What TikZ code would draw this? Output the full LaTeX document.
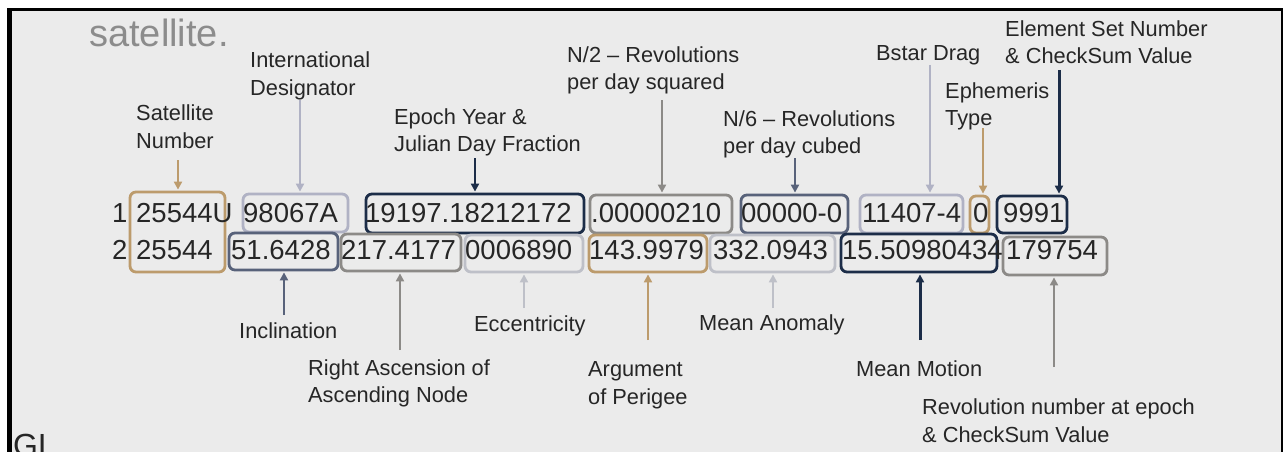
\documentclass[tikz,border=0pt]{standalone}
\usepackage{fontspec}
\setmainfont{Liberation Sans}
\usepackage{xcolor}
\usepackage{tikz}
\usetikzlibrary{arrows.meta}
\usetikzlibrary{positioning}

\definecolor{slidebg}{RGB}{235,235,235}
\definecolor{ink}{RGB}{38,38,38}
\definecolor{titlegrey}{RGB}{140,140,140}
\definecolor{tanline}{RGB}{188,155,108}
\definecolor{navyline}{RGB}{28,45,72}
\definecolor{slateline}{RGB}{88,98,122}
\definecolor{greyline}{RGB}{140,138,135}
\definecolor{paleblue}{RGB}{176,178,196}
\definecolor{palegrey}{RGB}{190,192,200}

\begin{document}
\begin{tikzpicture}[x=1pt,y=-1pt,>={Triangle[length=8pt,width=8pt]},shorten >=1pt]
	\tikzstyle{fld}=[draw, rounded corners=6pt, line width=2.8pt, inner sep=0pt]
	\tikzstyle{num}=[anchor=base west, inner sep=0pt, text=ink, font=\fontsize{27.5}{33}\selectfont]
	\tikzstyle{lab}=[anchor=base west, inner sep=0pt, align=left, text=ink, font=\fontsize{21.8}{27.5}\selectfont]
	\tikzstyle{pin}=[line width=2pt]
	\tikzstyle{bigpin}=[line width=3pt]

	\useasboundingbox (0,0) rectangle (1283,452);
	% slide frame
	\fill[white] (0,0) rectangle (1283,452);
	\fill[black] (7,8) rectangle (1283,460);
	\fill[slidebg] (12,11.5) rectangle (1281,460);

	\node[anchor=base west, inner sep=0pt, text=titlegrey, font=\fontsize{38}{42}\selectfont] (title) at (89,47) {satellite.};
	\node[anchor=base west, inner sep=0pt, text=ink, font=\fontsize{32}{36}\selectfont] (gl) at (13,456) {GL};

	% boxes, line 1
	\node[fld, tanline, minimum width=95pt, minimum height=80pt] (SN) at (177.5,232) {};
	\node[fld, paleblue, minimum width=105pt, minimum height=38pt] (ID) at (295.5,213) {};
	\node[fld, navyline, minimum width=218pt, minimum height=39pt] (EP) at (475,213.5) {};
	\node[fld, greyline, minimum width=142pt, minimum height=38pt] (N2) at (661,214) {};
	\node[fld, slateline, minimum width=107pt, minimum height=38pt] (N6) at (794.5,214) {};
	\node[fld, paleblue, minimum width=103pt, minimum height=38pt] (BS) at (911.5,214) {};
	\node[fld, tanline, minimum width=19pt, minimum height=37pt] (ET) at (979.5,214.5) {};
	\node[fld, navyline, minimum width=70pt, minimum height=37pt] (ES) at (1032,214.5) {};
	% boxes, line 2
	\node[fld, slateline, minimum width=109pt, minimum height=37pt] (IN) at (283.5,251.5) {};
	\node[fld, greyline, minimum width=120pt, minimum height=37pt] (RA) at (401,252.5) {};
	\node[fld, palegrey, minimum width=118pt, minimum height=37pt] (EC) at (524,253.5) {};
	\node[fld, tanline, minimum width=118pt, minimum height=37pt] (AP) at (648,253.5) {};
	\node[fld, palegrey, minimum width=125pt, minimum height=37pt] (MA) at (772.5,253.5) {};
	\node[fld, navyline, minimum width=156pt, minimum height=38pt] (MM) at (919,253) {};
	\node[fld, greyline, minimum width=104pt, minimum height=38pt] (RN) at (1055,256) {};

	% the two element lines
	\node[num] (l1) at (112,222) {1};
	\node[num] (l1a) at (136,222) {25544U};
	\node[num] (l1b) at (243,222) {98067A};
	\node[num] (l1c) at (365,222) {19197.18212172};
	\node[num] (l1d) at (591,222) {.00000210};
	\node[num] (l1e) at (741,222) {00000-0};
	\node[num] (l1f) at (862,222) {11407-4};
	\node[num] (l1g) at (973,222) {0};
	\node[num] (l1h) at (1003,222) {9991};
	\node[num] (l2) at (112,259) {2};
	\node[num] (l2a) at (136,259) {25544};
	\node[num] (l2b) at (231,259) {51.6428};
	\node[num] (l2c) at (341,259) {217.4177};
	\node[num] (l2d) at (465,259) {0006890};
	\node[num] (l2e) at (589,259) {143.9979};
	\node[num] (l2f) at (713,259) {332.0943};
	\node[num] (l2g) at (842,259) {15.50980434};
	\node[num] (l2h) at (1006,259) {179754};

	% labels above (base = last line)
	\node[lab, anchor=base, align=center] (satnum) at (175,148) {Satellite\\Number};
	\node[lab] (intdes) at (250,95.5) {International\\Designator};
	\node[lab] (epoch) at (394,151.5) {Epoch Year \&\\Julian Day Fraction};
	\node[lab] (ndot) at (567,89.5) {N/2 -- Revolutions\\per day squared};
	\node[lab] (nddot) at (723,153.5) {N/6 -- Revolutions\\per day cubed};
	\node[lab] (bstar) at (876,60) {Bstar Drag};
	\node[lab] (ephem) at (945,125.5) {Ephemeris\\Type};
	\node[lab] (elset) at (1005,63.5) {Element Set Number\\\& CheckSum Value};
	% labels below
	\node[lab] (incl) at (239,338) {Inclination};
	\node[lab] (raan) at (308,402.5) {Right Ascension of\\Ascending Node};
	\node[lab] (ecc) at (474,331) {Eccentricity};
	\node[lab] (argp) at (588,404) {Argument\\of Perigee};
	\node[lab] (manom) at (699,330) {Mean Anomaly};
	\node[lab] (mmot) at (856,376) {Mean Motion};
	\node[lab] (revn) at (922,442) {Revolution number at epoch\\\& CheckSum Value};

	% arrow tails
	\coordinate (tSN) at (178,160);
	\coordinate (tID) at (300,100);
	\coordinate (tEP) at (475,158);
	\coordinate (tN2) at (662,100);
	\coordinate (tN6) at (795,158);
	\coordinate (tBS) at (930,65);
	\coordinate (tET) at (983,128);
	\coordinate (tES) at (1059,70);
	\coordinate (tIN) at (284,315);
	\coordinate (tRA) at (400,350);
	\coordinate (tEC) at (524,308);
	\coordinate (tAP) at (648,340);
	\coordinate (tMA) at (773,308);
	\coordinate (tMM) at (920,340);
	\coordinate (tRN) at (1054,367);

	\path[->]
		(tSN) edge [pin, tanline] (tSN |- SN.north)
		(tID) edge [pin, paleblue] (tID |- ID.north)
		(tEP) edge [pin, navyline] (tEP |- EP.north)
		(tN2) edge [pin, greyline] (tN2 |- N2.north)
		(tN6) edge [pin, slateline] (tN6 |- N6.north)
		(tBS) edge [pin, paleblue] (tBS |- BS.north)
		(tET) edge [pin, tanline] (tET |- ET.north)
		(tES) edge [bigpin, navyline] (tES |- ES.north)
		(tIN) edge [pin, slateline] (tIN |- IN.south)
		(tRA) edge [pin, greyline] (tRA |- RA.south)
		(tEC) edge [pin, palegrey] (tEC |- EC.south)
		(tAP) edge [pin, tanline] (tAP |- AP.south)
		(tMA) edge [pin, palegrey] (tMA |- MA.south)
		(tMM) edge [bigpin, navyline] (tMM |- MM.south)
		(tRN) edge [pin, greyline] (tRN |- RN.south);
\end{tikzpicture}
\end{document}
